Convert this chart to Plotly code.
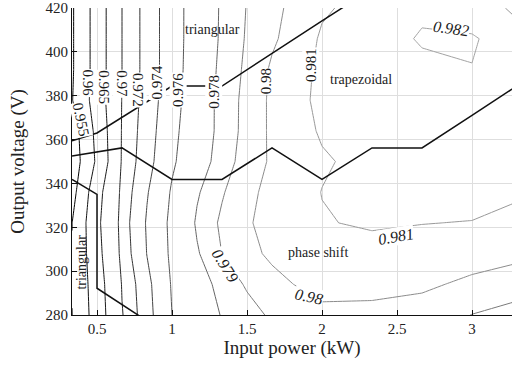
import plotly.graph_objects as go

# Grid of operating points: input power (kW) x output voltage (V)
power_kw = [0.3333, 0.5, 0.6667, 0.8333, 1.0, 1.1667, 1.3333, 1.5, 1.6667,
            2.0, 2.3333, 2.6667, 3.0, 3.3333]
voltage_v = [280, 294, 308, 322, 336, 350, 364, 378, 392, 406, 420]

# Converter efficiency, one row per output voltage
efficiency = [
    [0.95496, 0.96235, 0.96986, 0.97333, 0.97600, 0.97708, 0.97808, 0.97863, 0.97915, 0.97970, 0.97975, 0.97955, 0.97898, 0.97865],
    [0.95514, 0.96273, 0.97016, 0.97351, 0.97615, 0.97739, 0.97840, 0.97912, 0.97970, 0.98040, 0.98028, 0.98018, 0.97979, 0.97935],
    [0.95515, 0.96350, 0.97082, 0.97405, 0.97636, 0.97788, 0.97901, 0.97972, 0.98018, 0.98052, 0.98065, 0.98062, 0.98045, 0.98025],
    [0.95495, 0.96400, 0.97104, 0.97419, 0.97644, 0.97816, 0.97919, 0.97991, 0.98029, 0.98094, 0.98112, 0.98102, 0.98097, 0.98085],
    [0.95331, 0.96333, 0.97074, 0.97387, 0.97620, 0.97787, 0.97890, 0.97977, 0.98027, 0.98102, 0.98125, 0.98140, 0.98135, 0.98105],
    [0.95215, 0.96077, 0.97031, 0.97333, 0.97573, 0.97734, 0.97852, 0.97944, 0.98015, 0.98089, 0.98130, 0.98150, 0.98155, 0.98130],
    [0.95265, 0.96133, 0.97021, 0.97310, 0.97553, 0.97717, 0.97838, 0.97933, 0.98019, 0.98111, 0.98140, 0.98155, 0.98160, 0.98130],
    [0.95480, 0.96230, 0.97010, 0.97290, 0.97530, 0.97710, 0.97840, 0.97930, 0.98020, 0.98125, 0.98140, 0.98165, 0.98180, 0.98120],
    [0.95450, 0.96210, 0.97000, 0.97280, 0.97520, 0.97700, 0.97830, 0.97920, 0.98015, 0.98120, 0.98145, 0.98172, 0.98196, 0.98110],
    [0.95450, 0.96210, 0.97000, 0.97280, 0.97520, 0.97690, 0.97820, 0.97910, 0.97984, 0.98112, 0.98141, 0.98212, 0.98215, 0.98110],
    [0.95450, 0.96210, 0.97000, 0.97280, 0.97520, 0.97689, 0.97817, 0.97904, 0.97973, 0.98088, 0.98135, 0.98178, 0.98120, 0.98090],
]

# Contour levels and the grey shade used for each
levels = [0.955, 0.96, 0.965, 0.97, 0.972, 0.974, 0.976, 0.978, 0.979, 0.98, 0.981, 0.982]
level_colors = ["#000000", "#111111", "#1a1a1a", "#262626", "#333333", "#444444",
                "#555555", "#666666", "#7a7a7a", "#8c8c8c", "#999999", "#a3a3a3"]

# Inline contour labels: which level, where, rotation and slant
label_level = [0.955, 0.96, 0.965, 0.97, 0.972, 0.974, 0.976, 0.978, 0.98, 0.981,
               0.979, 0.98, 0.981, 0.982]
label_p = [0.395, 0.439, 0.549, 0.661, 0.777, 0.900, 1.044, 1.278, 1.627, 1.922,
           1.354, 1.911, 2.494, 2.861]
label_v = [369.0, 385.6, 383.7, 385.6, 382.8, 386.0, 382.4, 381.7, 386.6, 394.2,
           302.5, 288.6, 315.6, 410.6]
label_angle = [78, 90, 90, 90, 90, -90, -90, -90, -90, -90, 58, 12, -10, 8]
label_style = ["normal"] * 10 + ["italic"] * 4

# Modulation-mode boundaries
tri_upper_p = [0.3333, 0.5, 1.0, 1.3333, 2.0, 2.3333]
tri_upper_v = [359.4, 363.0, 384.4, 384.4, 414.1, 428.8]
trap_lower_p = [0.3333, 0.6667, 1.0, 1.3333, 1.6667, 2.0, 2.3333, 2.6667, 3.0, 3.3333]
trap_lower_v = [352.5, 356.2, 341.8, 341.8, 356.2, 341.8, 356.2, 356.2, 371.0, 386.0]
tri_lower_p = [0.3333, 0.5, 0.5, 0.8333]
tri_lower_v = [341.8, 335.0, 292.2, 277.3]

# Mode names and where they sit
mode_names = ["triangular", "trapezoidal", "phase shift", "triangular"]
mode_p = [1.267, 2.261, 1.972, 0.395]
mode_v = [410.2, 387.4, 308.7, 304.0]
mode_angle = [0, 0, 0, -90]

serif = "Liberation Serif"

fig = go.Figure()

for lev, col in zip(levels, level_colors):
    fig.add_trace(go.Contour(
        x=power_kw, y=voltage_v, z=efficiency,
        autocontour=False,
        contours=dict(start=lev, end=lev, size=0.001, coloring="none",
                      showlabels=False),
        line=dict(color=col, width=1, smoothing=0),
        showscale=False, hoverinfo="skip",
    ))

for px_, vy_ in [(tri_upper_p, tri_upper_v), (trap_lower_p, trap_lower_v),
                 (tri_lower_p, tri_lower_v)]:
    fig.add_trace(go.Scatter(x=px_, y=vy_, mode="lines",
                             line=dict(color="#111111", width=1.5),
                             showlegend=False, hoverinfo="skip"))


def level_text(v):
    return f"{v:.3f}".rstrip("0")


for lev, p, v, ang, sty in zip(label_level, label_p, label_v, label_angle, label_style):
    fig.add_annotation(x=p, y=v, text=level_text(lev), showarrow=False,
                       textangle=ang, bgcolor="white", borderpad=0,
                       font=dict(family=serif, size=15 if sty == "normal" else 16,
                                 style=sty, color="#1a1a1a"))

for name, p, v, ang in zip(mode_names, mode_p, mode_v, mode_angle):
    fig.add_annotation(x=p, y=v, text=name, showarrow=False, textangle=ang,
                       font=dict(family=serif, size=14, color="#222222"))

axis_common = dict(
    showgrid=True, gridcolor="#dedede", gridwidth=1,
    showline=True, linecolor="#111111", linewidth=1.2,
    ticks="inside", ticklen=5, tickcolor="#111111",
    tickfont=dict(family=serif, size=15, color="#222222"),
    zeroline=False, mirror=False,
)

fig.update_layout(
    width=512, height=366,
    margin=dict(l=72, r=0, t=8, b=51),
    paper_bgcolor="white", plot_bgcolor="white",
    showlegend=False,
    xaxis=dict(range=[0.3333, 3.2667],
               tickvals=[0.5, 1, 1.5, 2, 2.5, 3],
               ticktext=["0.5", "1", "1.5", "2", "2.5", "3"],
               title=dict(text="Input power (kW)", standoff=4,
                          font=dict(family=serif, size=19, color="#222222")),
               **axis_common),
    yaxis=dict(range=[280, 420],
               tickvals=[280, 300, 320, 340, 360, 380, 400, 420],
               title=dict(text="Output voltage (V)", standoff=15,
                          font=dict(family=serif, size=19, color="#222222")),
               **axis_common),
)

fig.write_html("out.html")
